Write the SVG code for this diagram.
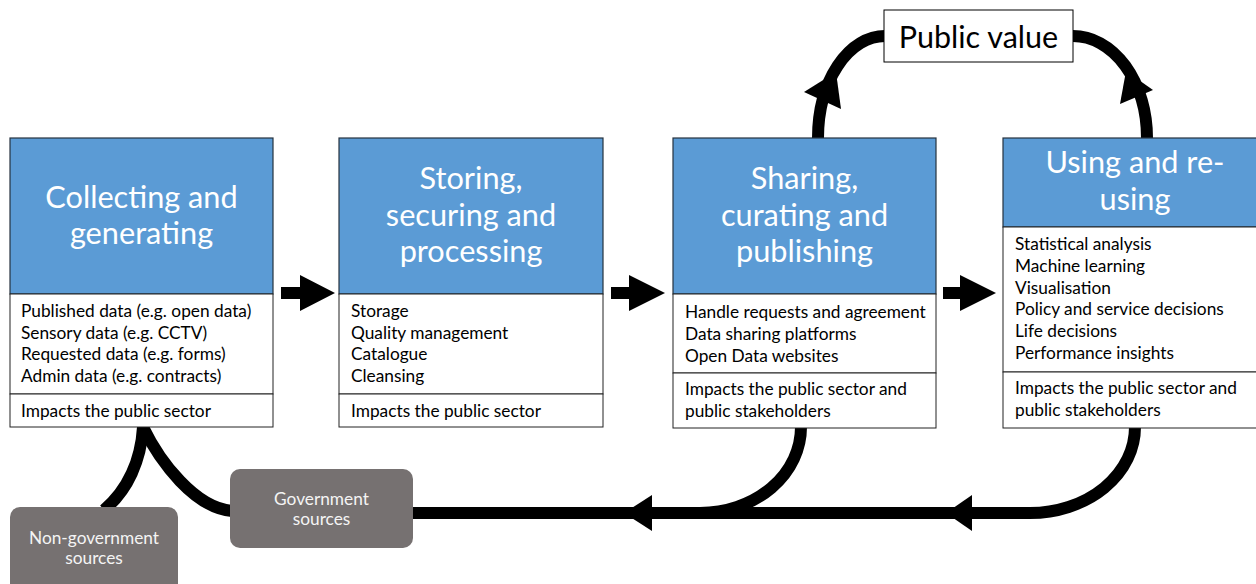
<svg xmlns="http://www.w3.org/2000/svg" width="1256" height="584" viewBox="0 0 1256 584">
  <style>
    .hdr { fill: #5B9BD5; stroke: #26323f; stroke-width: 1.2; }
    .sec { fill: #ffffff; stroke: #222222; stroke-width: 1; }
    .title { font-family: Lato, "Liberation Sans", sans-serif; font-size: 30.7px; fill: #ffffff; text-anchor: middle; }
    .body { font-family: Lato, "Liberation Sans", sans-serif; font-size: 17.3px; fill: #000000; }
    .src { fill: #767171; }
    .srctxt { font-family: Lato, "Liberation Sans", sans-serif; font-size: 17.3px; fill: #f4f4f4; text-anchor: middle; }
    .pv { font-family: Lato, "Liberation Sans", sans-serif; font-size: 30.5px; fill: #000000; text-anchor: middle; }
    .line { fill: none; stroke: #000000; stroke-width: 12; }
    .head { fill: #000000; }
  </style>

  <g id="connectors">
    <!-- loops to Public value -->
    <path class="line" d="M818,138 A67,102 0 0 1 885,36"/>
    <polygon class="head" points="804,92 841,109 836,72"/>
    <path class="line" d="M1147,138 A74,102 0 0 0 1073,36"/>
    <polygon class="head" points="1120,104 1153,90 1126,71"/>
    <!-- return lines -->
    <path class="line" d="M1135,427 A105,86 0 0 1 1030,513 L413,513"/>
    <path class="line" d="M801,427 A101,86 0 0 1 700,513"/>
    <polygon class="head" points="946,513 972,495 972,531"/>
    <polygon class="head" points="624,513 652,495 652,531"/>
    <!-- sources to collecting -->
    <path class="line" d="M143,427 C160,462 195,508 232,511"/>
    <path class="line" d="M143,427 C141,460 128,490 104,510"/>
    <!-- block arrows between stages -->
    <polygon class="head" points="281,287 300,287 300,275 335,293 300,311 300,299 281,299"/>
    <polygon class="head" points="611,287 629,287 629,275 665,293 629,311 629,299 611,299"/>
    <polygon class="head" points="943,287 960,287 960,275 996,293 960,311 960,299 943,299"/>
  </g>

  <g id="collecting">
    <rect class="hdr" x="10" y="138" width="263" height="156"/>
    <rect class="sec" x="10" y="294" width="263" height="100"/>
    <rect class="sec" x="10" y="394" width="263" height="33"/>
    <text class="title" x="141.5" y="208">Collecting and</text>
    <text class="title" x="141.5" y="244">generating</text>
    <text class="body" x="21" y="317">Published data (e.g. open data)</text>
    <text class="body" x="21" y="338.7">Sensory data (e.g. CCTV)</text>
    <text class="body" x="21" y="360.4">Requested data (e.g. forms)</text>
    <text class="body" x="21" y="382">Admin data (e.g. contracts)</text>
    <text class="body" x="21" y="416.7">Impacts the public sector</text>
  </g>

  <g id="storing">
    <rect class="hdr" x="339" y="138" width="264" height="156"/>
    <rect class="sec" x="339" y="294" width="264" height="100"/>
    <rect class="sec" x="339" y="394" width="264" height="33"/>
    <text class="title" x="471" y="189">Storing,</text>
    <text class="title" x="471" y="225.5">securing and</text>
    <text class="title" x="471" y="262">processing</text>
    <text class="body" x="351" y="317">Storage</text>
    <text class="body" x="351" y="338.7">Quality management</text>
    <text class="body" x="351" y="360.4">Catalogue</text>
    <text class="body" x="351" y="382">Cleansing</text>
    <text class="body" x="351" y="416.7">Impacts the public sector</text>
  </g>

  <g id="sharing">
    <rect class="hdr" x="673" y="138" width="263" height="156"/>
    <rect class="sec" x="673" y="294" width="263" height="79"/>
    <rect class="sec" x="673" y="373" width="263" height="55"/>
    <text class="title" x="804.5" y="189">Sharing,</text>
    <text class="title" x="804.5" y="225.5">curating and</text>
    <text class="title" x="804.5" y="262">publishing</text>
    <text class="body" x="685" y="318">Handle requests and agreement</text>
    <text class="body" x="685" y="340">Data sharing platforms</text>
    <text class="body" x="685" y="362">Open Data websites</text>
    <text class="body" x="685" y="395">Impacts the public sector and</text>
    <text class="body" x="685" y="417">public stakeholders</text>
  </g>

  <g id="using">
    <rect class="hdr" x="1003" y="138" width="264" height="89"/>
    <rect class="sec" x="1003" y="227" width="264" height="145"/>
    <rect class="sec" x="1003" y="372" width="264" height="56"/>
    <text class="title" x="1135" y="173">Using and re-</text>
    <text class="title" x="1135" y="210">using</text>
    <text class="body" x="1015" y="250">Statistical analysis</text>
    <text class="body" x="1015" y="272">Machine learning</text>
    <text class="body" x="1015" y="293.5">Visualisation</text>
    <text class="body" x="1015" y="315">Policy and service decisions</text>
    <text class="body" x="1015" y="337">Life decisions</text>
    <text class="body" x="1015" y="359">Performance insights</text>
    <text class="body" x="1015" y="394">Impacts the public sector and</text>
    <text class="body" x="1015" y="416">public stakeholders</text>
  </g>

  <g id="public-value">
    <rect x="884" y="10" width="189" height="52" fill="#ffffff" stroke="#000000" stroke-width="1"/>
    <text class="pv" x="978.5" y="48">Public value</text>
  </g>

  <g id="government-sources">
    <rect class="src" x="230" y="469" width="183" height="79" rx="10" ry="10"/>
    <text class="srctxt" x="321.5" y="505">Government</text>
    <text class="srctxt" x="321.5" y="525">sources</text>
  </g>

  <g id="non-government-sources">
    <rect class="src" x="10" y="507" width="168" height="95" rx="10" ry="10"/>
    <text class="srctxt" x="94" y="544">Non-government</text>
    <text class="srctxt" x="94" y="563.5">sources</text>
  </g>
</svg>
